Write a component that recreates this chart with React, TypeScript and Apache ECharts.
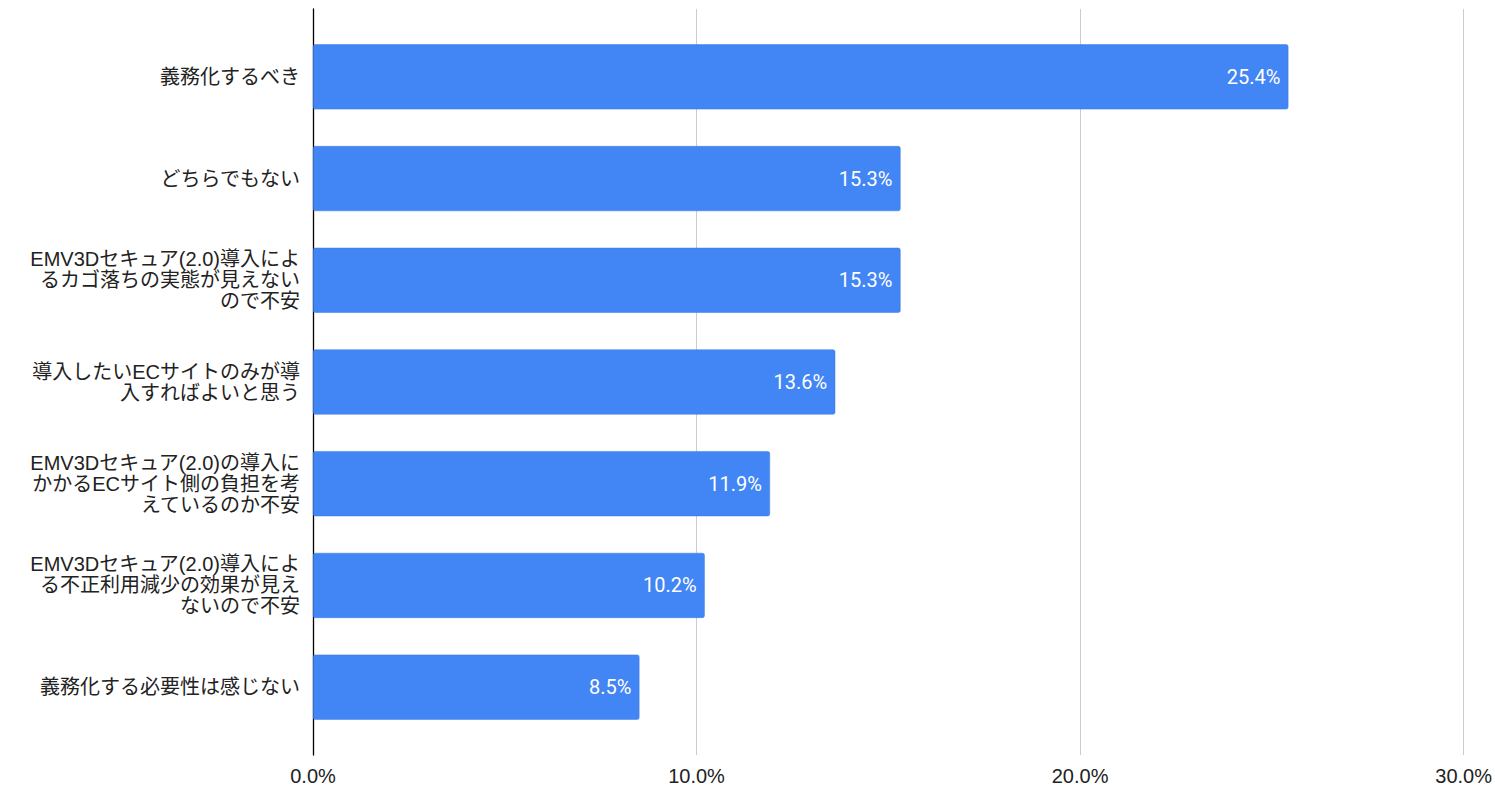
import React, { useEffect, useRef } from "react";
import * as echarts from "echarts";

const categories = [
  "義務化するべき",
  "どちらでもない",
  "EMV3Dセキュア(2.0)導入によ\nるカゴ落ちの実態が見えない\nので不安",
  "導入したいECサイトのみが導\n入すればよいと思う",
  "EMV3Dセキュア(2.0)の導入に\nかかるECサイト側の負担を考\nえているのか不安",
  "EMV3Dセキュア(2.0)導入によ\nる不正利用減少の効果が見え\nないので不安",
  "義務化する必要性は感じない",
];
const values = [25.4, 15.3, 15.3, 13.6, 11.9, 10.2, 8.5];
const xTicks = [0, 10, 20, 30];

const FONT = "'Liberation Sans', 'Noto Sans CJK JP', Arial, sans-serif";

export default function App() {
  const ref = useRef<HTMLDivElement>(null);
  useEffect(() => {
    if (!ref.current) return;
    const chart = echarts.init(ref.current, undefined, { renderer: "svg" });
    chart.setOption({
      animation: false,
      backgroundColor: "#ffffff",
      grid: [
        { left: 313, right: 30, top: 26, bottom: 68 },
        { left: 313, right: 30, top: 9, bottom: 51 },
      ],
      xAxis: [
        {
          gridIndex: 0,
          type: "value",
          min: 0,
          max: 30,
          interval: 10,
          axisLabel: { show: false },
          axisLine: { show: false },
          axisTick: { show: false },
          splitLine: { show: false },
        },
        {
          gridIndex: 1,
          type: "value",
          min: xTicks[0],
          max: xTicks[xTicks.length - 1],
          interval: 10,
          axisLabel: {
            formatter: (v: number) => v.toFixed(1) + "%",
            color: "#222222",
            fontSize: 20,
            fontFamily: FONT,
            margin: 11,
          },
          axisLine: { show: false },
          axisTick: { show: false },
          splitLine: { show: true, lineStyle: { color: "#cccccc", width: 1 } },
        },
      ],
      yAxis: [
        {
          gridIndex: 0,
          type: "category",
          data: categories,
          inverse: true,
          axisLine: { show: false },
          axisTick: { show: false },
          axisLabel: {
            color: "#222222",
            fontSize: 20,
            fontFamily: FONT,
            lineHeight: 21,
            align: "right",
            margin: 13,
          },
        },
        {
          gridIndex: 1,
          type: "category",
          data: ["a"],
          axisLine: { show: true, lineStyle: { color: "#000000", width: 1.3 } },
          axisTick: { show: false },
          axisLabel: { show: false },
        },
      ],
      series: [
        {
          type: "bar",
          xAxisIndex: 0,
          yAxisIndex: 0,
          data: values,
          barWidth: 65,
          itemStyle: {
            color: "#4285f4",
            borderRadius: 2,
            borderColor: "#3b78e7",
            borderWidth: 0.5,
          },
          label: {
            show: true,
            position: "insideRight",
            formatter: (p: any) => p.value.toFixed(1) + "%",
            color: "#ffffff",
            fontSize: 20,
            fontFamily: "Roboto, sans-serif",
            fontWeight: "normal",
            distance: 8,
          },
        },
      ],
    });
    return () => chart.dispose();
  }, []);
  return (
    <div
      ref={ref}
      style={{ position: "absolute", left: 0, top: 0, width: 1495, height: 806 }}
    />
  );
}
